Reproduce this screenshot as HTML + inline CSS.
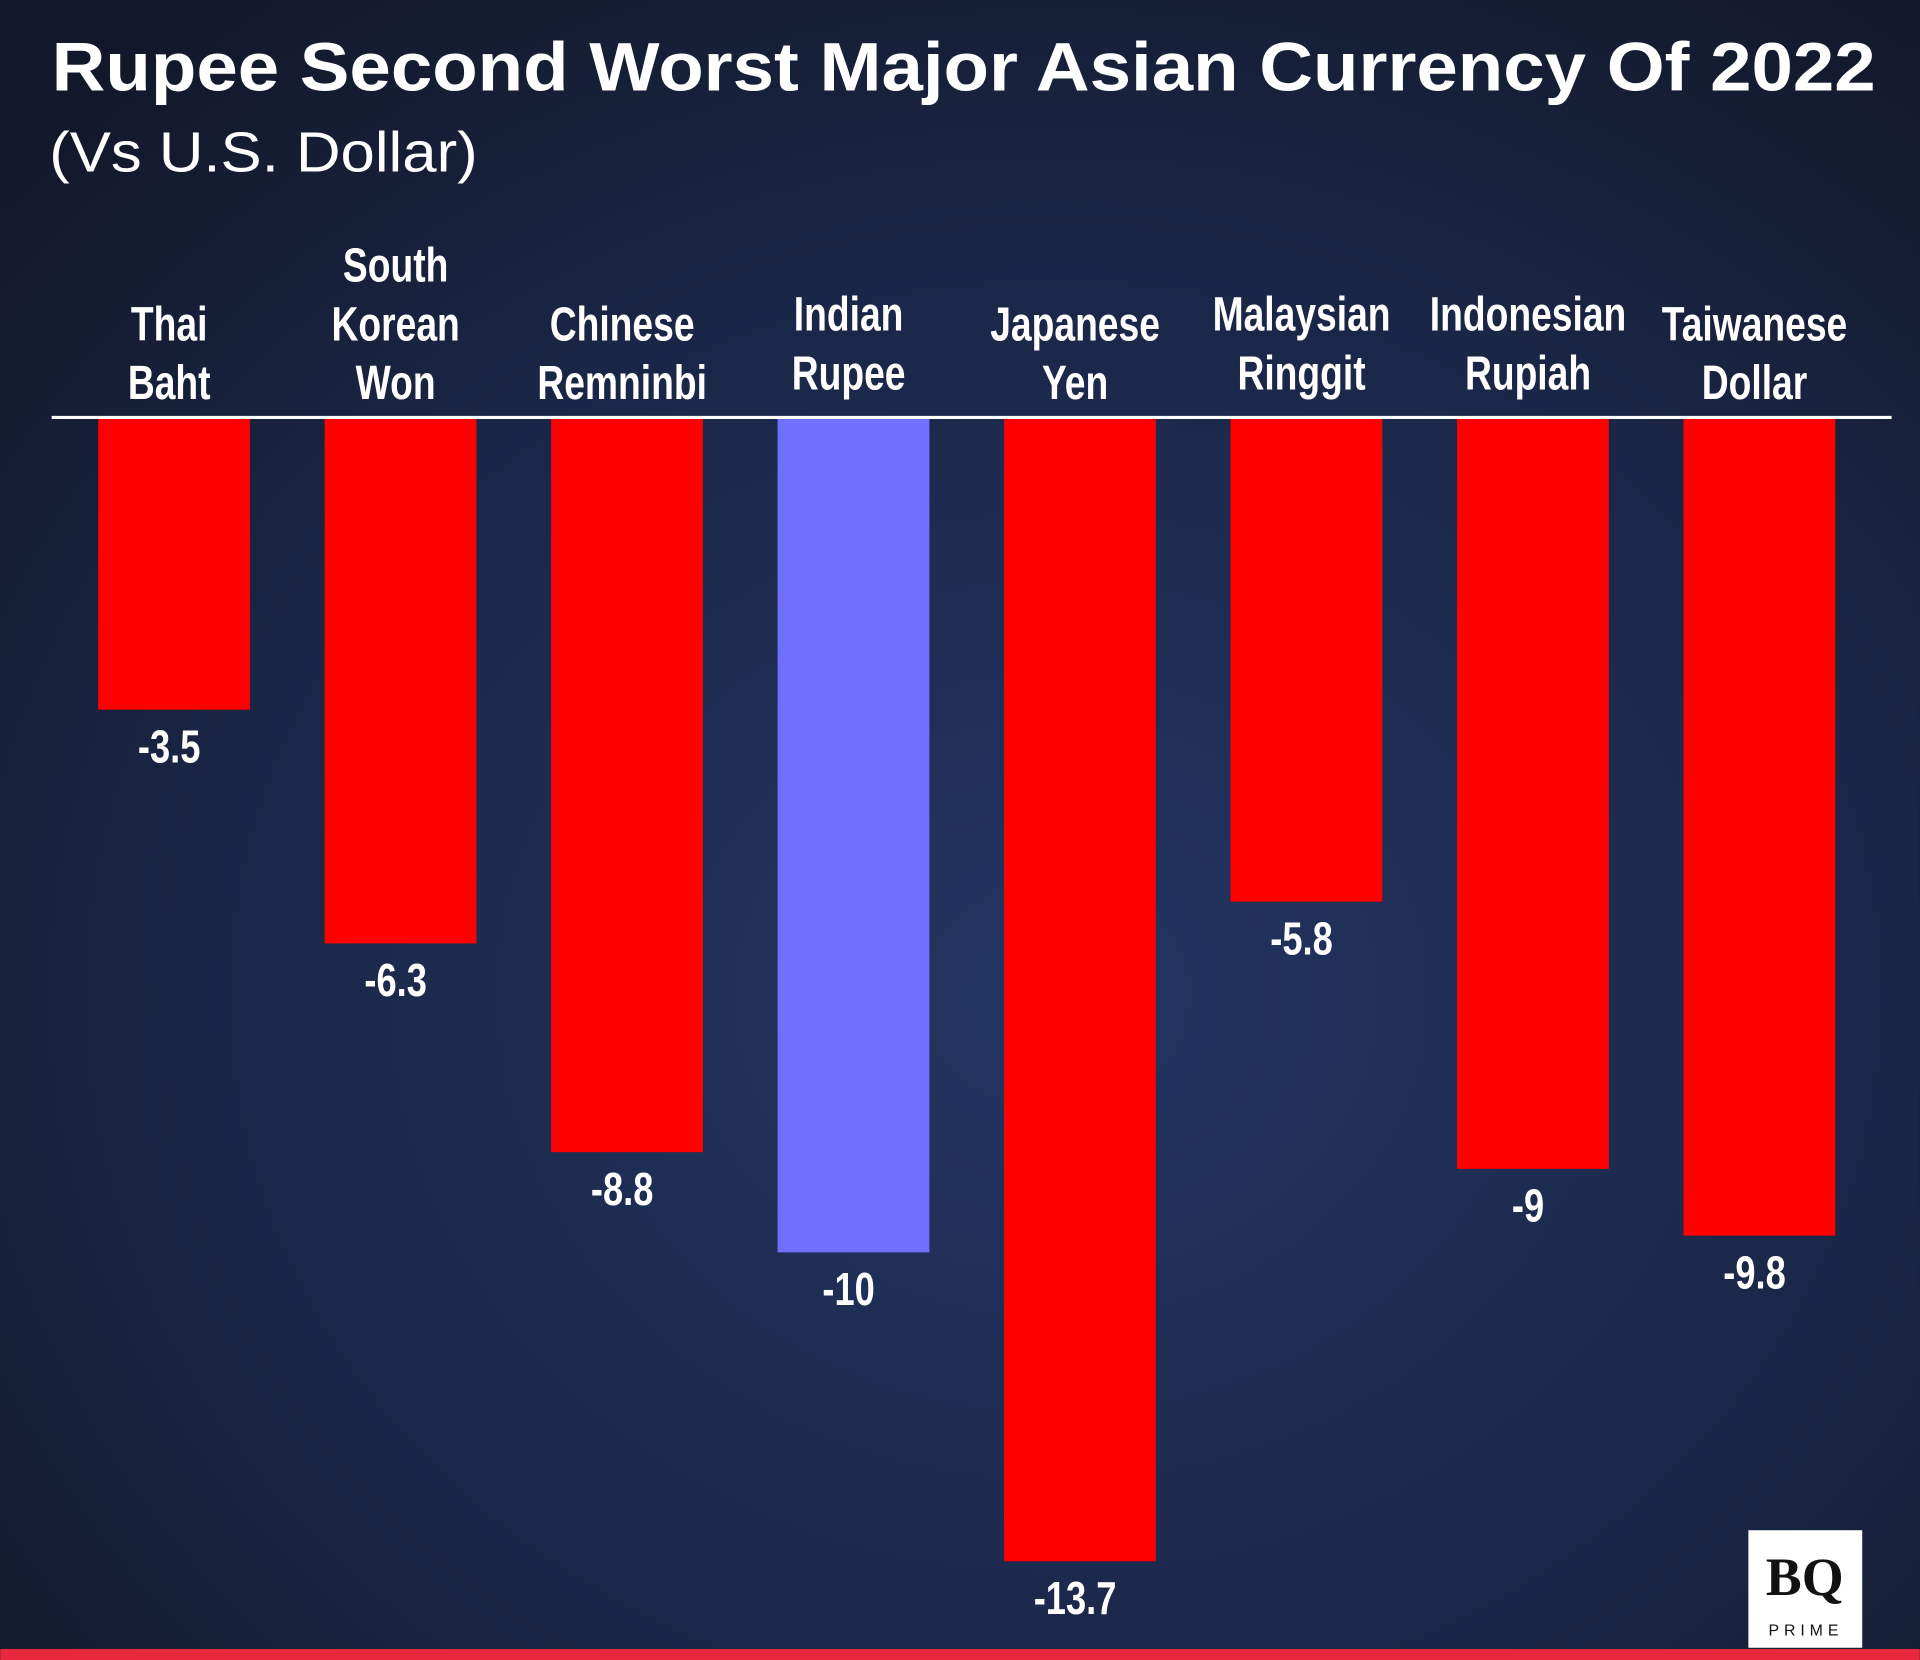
<!DOCTYPE html>
<html><head><meta charset="utf-8"><style>
html,body{margin:0;padding:0;width:1920px;height:1660px;overflow:hidden;background:#151c33}
svg{display:block}
text{font-family:"Liberation Sans",sans-serif}
</style></head><body>
<svg width="1920" height="1660" viewBox="0 0 1568 1356" xmlns="http://www.w3.org/2000/svg">
<defs>
<radialGradient id="bg" cx="0.55" cy="0.6" r="0.75">
<stop offset="0" stop-color="#233563"/><stop offset="0.6" stop-color="#1a2646"/><stop offset="1" stop-color="#121829"/>
</radialGradient>
</defs>
<rect width="1568" height="1356" fill="url(#bg)"/>
<text x="42" y="74" fill="#fff" font-weight="bold" font-size="56" textLength="1490" lengthAdjust="spacingAndGlyphs">Rupee Second Worst Major Asian Currency Of 2022</text>
<text x="40" y="140" fill="#fff" font-size="46" textLength="350" lengthAdjust="spacingAndGlyphs">(Vs U.S. Dollar)</text>
<g id="bars"></g>
<line x1="42" x2="1545" y1="341" y2="341" stroke="#fff" stroke-width="2.5"/>
<rect x="0" y="1347" width="1568" height="9" fill="#e8283c"/>
<g>
<rect x="1428" y="1250" width="93" height="96" fill="#fff"/>
<text x="1474" y="1303" text-anchor="middle" font-size="44" font-weight="bold" fill="#111" style="font-family:'Liberation Serif',serif">BQ</text>
<text x="1475" y="1336" text-anchor="middle" font-size="13" letter-spacing="4" fill="#111">PRIME</text>
</g>
</svg>
<script>
const categories=[["Thai","Baht"],["South","Korean","Won"],["Chinese","Remninbi"],["Indian","Rupee"],["Japanese","Yen"],["Malaysian","Ringgit"],["Indonesian","Rupiah"],["Taiwanese","Dollar"]];
const values=[-3.5,-6.3,-8.8,-10,-13.7,-5.8,-9,-9.8];
const valueLabels=["-3.5","-6.3","-8.8","-10","-13.7","-5.8","-9","-9.8"];
const highlight=[false,false,false,true,false,false,false,false];
const NS="http://www.w3.org/2000/svg";
const g=document.getElementById('bars');
const x0=142,step=185,bw=124,base=341,k=68.2;
const xs=i=>x0+i*step;
const ys=v=>base-v*k;
function label(x,y,str,size){
 const t=document.createElementNS(NS,'text');
 t.setAttribute('transform','translate('+x+','+y+') scale(0.78,1)');
 t.setAttribute('text-anchor','middle');t.setAttribute('fill','#fff');
 t.setAttribute('font-size',size);t.setAttribute('font-weight','bold');
 t.textContent=str;g.appendChild(t);return t;
}
values.forEach((v,i)=>{
 const cx=xs(i);
 const r=document.createElementNS(NS,'rect');
 
 
 r.setAttribute('x',cx-bw/2);r.setAttribute('y',Math.min(base,ys(v)));
 r.setAttribute('width',bw);r.setAttribute('height',Math.abs(ys(v)-base));
 r.setAttribute('fill',highlight[i]?'#7070ff':'#ff0000');
 g.appendChild(r);
 const t=label(cx-4,ys(v)+43,valueLabels[i],38);
 
 
 const lines=categories[i];
 lines.forEach((ln,j)=>{
  const off=lines.length===3?0:(i===3||i===5||i===6?-8:0);
  const c=label(cx-4,326+off-(lines.length-1-j)*48,ln,39);
  
  
 });
});
</script>
</body></html>
